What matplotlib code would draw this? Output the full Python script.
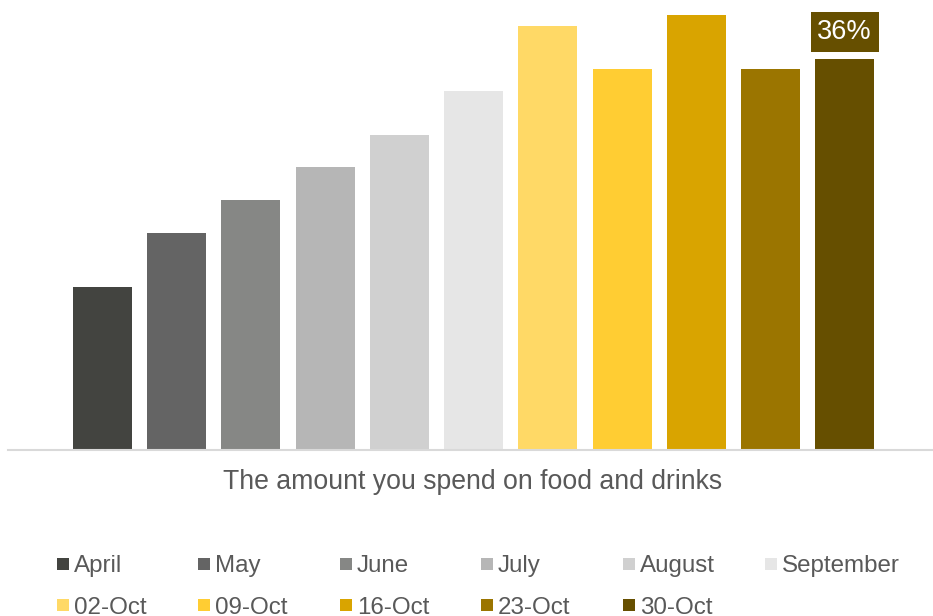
import matplotlib
matplotlib.use("Agg")
import matplotlib.pyplot as plt
from matplotlib.patches import Rectangle

# share of budget spent on food and drinks, by period
periods = ["April", "May", "June", "July", "August", "September",
           "02-Oct", "09-Oct", "16-Oct", "23-Oct", "30-Oct"]
values = [15, 20, 23, 26, 29, 33, 39, 35, 40, 35, 36]
colors = ["#434440", "#646464", "#868785", "#b6b6b6", "#d0d0d0", "#e6e6e6",
          "#ffd966", "#ffcd33", "#d9a400", "#9b7500", "#664f00"]

W, H = 933, 616
fig = plt.figure(figsize=(W / 100, H / 100), dpi=100)
plt.rcParams["font.family"] = ["Liberation Sans", "DejaVu Sans"]

# axes: baseline at y=450 px, spanning full width from x=8
ax = fig.add_axes([8 / W, (H - 450) / H, (W - 8) / W, 450 / H])
x = list(range(len(periods)))
ax.bar(x, values, width=0.795, color=colors, zorder=2)
ax.set_xlim(-1.274, 11.19)
ax.set_ylim(0, 450 / 10.875)
for side in ["top", "right", "left"]:
    ax.spines[side].set_visible(False)
ax.spines["bottom"].set_color("#d9d9d9")
ax.spines["bottom"].set_linewidth(1.5)
ax.set_xticks([])
ax.set_yticks([])

# value label on the last bar
ax.text(x[-1], values[-1] + 1.25, f"{values[-1]}%", ha="center", va="bottom",
        fontsize=19.5, color="white",
        bbox=dict(boxstyle="square,pad=0.25", facecolor=colors[-1], edgecolor="none"))

fig.text(473 / W, 1 - 482 / H, "The amount you spend on food and drinks",
         ha="center", va="center", fontsize=19.2, color="#595959")

# legend laid out in two rows of six columns
col_x = [57, 198, 340, 481, 623, 765]
row_y = [563.5, 605]
for i, (name, c) in enumerate(zip(periods, colors)):
    r, k = divmod(i, 6)
    mx, my = col_x[k], row_y[r]
    fig.patches.append(Rectangle((mx / W, 1 - (my + 6) / H), 12 / W, 12 / H,
                                 transform=fig.transFigure, facecolor=c,
                                 edgecolor="none"))
    fig.text((mx + 17) / W, 1 - my / H, name, ha="left", va="center_baseline",
             fontsize=17.4, color="#595959")

fig.savefig("out.png", dpi=100)
